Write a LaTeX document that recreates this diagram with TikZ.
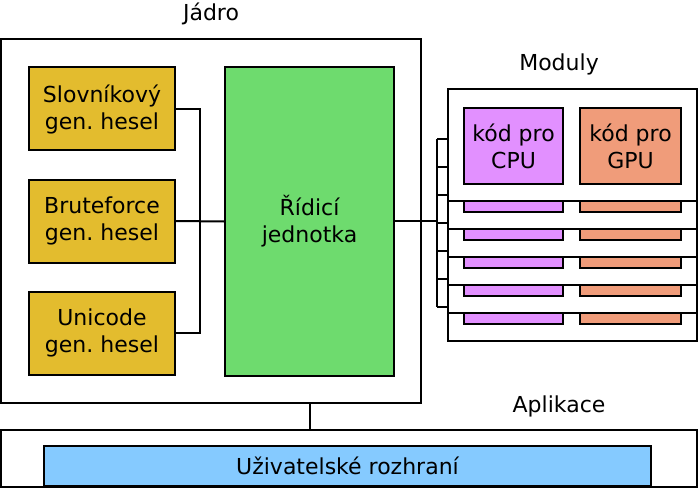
\documentclass[tikz,border=0pt]{standalone}
\usepackage{fontspec}
\setmainfont{DejaVu Sans}
\frenchspacing
\definecolor{genc}{RGB}{227,188,46}
\definecolor{ctrlc}{RGB}{110,219,110}
\definecolor{uic}{RGB}{133,202,255}
\definecolor{cpuc}{RGB}{226,144,255}
\definecolor{gpuc}{RGB}{240,156,122}
\begin{document}
\begin{tikzpicture}[x=1pt,y=-1pt,
  every node/.style={font=\fontsize{22}{27}\selectfont\frenchspacing, align=center, inner sep=0pt},
  box/.style={draw=black, line width=2pt, rectangle},
  line/.style={draw=black, line width=2pt}]
\useasboundingbox (0,0) rectangle (700,489);
% Jadro
\node[box, fill=white, minimum width=420pt, minimum height=364pt] (jadro) at (211,221) {};
\node (jlab) at (211,14) {Jádro};
\node[box, fill=genc, minimum width=146pt, minimum height=83pt] (g1) at (102,109) {Slovníkový\\gen. hesel};
\node[box, fill=genc, minimum width=146pt, minimum height=83pt] (g2) at (102,221) {Bruteforce\\gen. hesel};
\node[box, fill=genc, minimum width=146pt, minimum height=83pt] (g3) at (102,333) {Unicode\\gen. hesel};
\node[box, fill=ctrlc, minimum width=169pt, minimum height=308pt] (ctrl) at (309.5,221.5) {Řídicí\\jednotka};
\coordinate (j1) at (200,221);
\draw[line] (g1.east) -| (j1);
\draw[line] (g3.east) -| (j1);
\draw[line] (g2.east) -- (ctrl.west);
% Moduly
\node (mlab) at (559,64) {Moduly};
\foreach \k in {5,4,3,2,1,0}{
  \node[box, fill=white, minimum width=249pt, minimum height=112pt] (m\k) at (572.5,145+28*\k) {};
  \node[box, fill=cpuc, minimum width=99pt, minimum height=76pt] (cpu\k) at (513.5,146+28*\k) {};
  \node[box, fill=gpuc, minimum width=101pt, minimum height=76pt] (gpu\k) at (630.5,146+28*\k) {};
}
\node at (cpu0) {kód pro\\CPU};
\node at (gpu0) {kód pro\\GPU};
\coordinate (bus) at (437,221);
\coordinate (bt) at (437,139);
\coordinate (bb) at (437,307);
\draw[line] (ctrl.east |- bus) -- (bus);
\draw[line] (bt) -- (bb);
\foreach \i in {0,...,6}{
  \coordinate (t\i) at (437,139+28*\i);
  \draw[line] (t\i) -- ++(11,0);
}
% Aplikace
\node (alab) at (559,406) {Aplikace};
\node[box, fill=white, minimum width=696pt, minimum height=57pt] (app) at (349,458.5) {};
\node[box, fill=uic, minimum width=607pt, minimum height=40pt] (ui) at (347.5,466) {Uživatelské rozhraní};
\draw[line] (ctrl.south |- jadro.south) -- (ctrl.south |- app.north);
\end{tikzpicture}
\end{document}
